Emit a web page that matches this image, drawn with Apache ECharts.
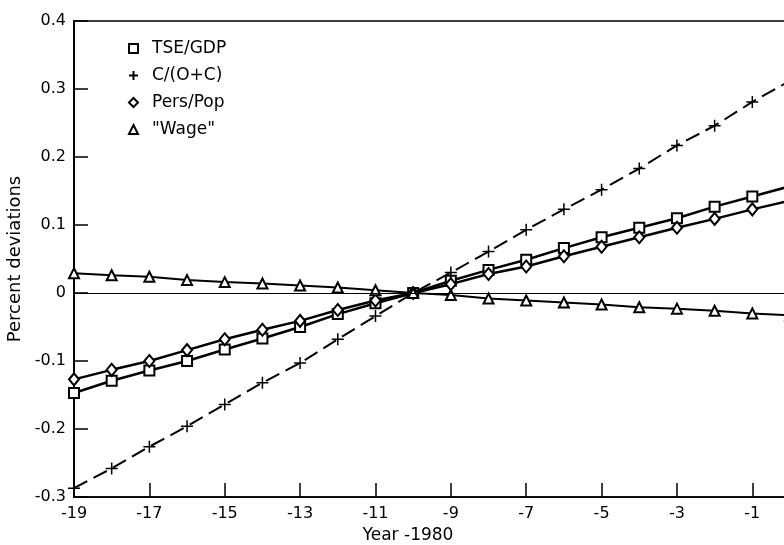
<!DOCTYPE html>
<html>
<head>
<meta charset="utf-8">
<script src="https://cdn.jsdelivr.net/npm/echarts@6/dist/echarts.min.js"></script>
<style>
html, body { margin: 0; padding: 0; background: #fff; }
#main { width: 784px; height: 545px; }
</style>
</head>
<body>
<div id="main"></div>
<script>
// years relative to 1980
var years = [-19, -18, -17, -16, -15, -14, -13, -12, -11, -10, -9, -8, -7, -6, -5, -4, -3, -2, -1, 0];

var tseGdp = [-0.147, -0.129, -0.114, -0.100, -0.083, -0.067, -0.050, -0.031, -0.015, 0.000,
	0.018, 0.034, 0.049, 0.066, 0.082, 0.096, 0.110, 0.127, 0.142, 0.157];
var cOC = [-0.287, -0.258, -0.226, -0.196, -0.164, -0.132, -0.103, -0.068, -0.034, 0.000,
	0.030, 0.061, 0.093, 0.123, 0.152, 0.183, 0.217, 0.246, 0.281, 0.312];
var persPop = [-0.127, -0.113, -0.100, -0.084, -0.068, -0.054, -0.041, -0.025, -0.011, 0.000,
	0.013, 0.028, 0.039, 0.054, 0.068, 0.082, 0.096, 0.109, 0.123, 0.136];
var wage = [0.029, 0.026, 0.024, 0.019, 0.016, 0.014, 0.011, 0.008, 0.004, 0.000,
	-0.003, -0.008, -0.011, -0.014, -0.017, -0.021, -0.023, -0.026, -0.030, -0.033];

var names = ['TSE/GDP', 'C/(O+C)', 'Pers/Pop', '"Wage"'];

function pairs(vals) {
	var out = [];
	for (var i = 0; i < years.length; i++) {
		out.push([years[i], vals[i]]);
	}
	return out;
}

var plusPath = 'path://M5,0L5,10M0,5L10,5';
var font = 'DejaVu Sans';

var chart = echarts.init(document.getElementById('main'));

var option = {
	animation: false,
	backgroundColor: '#fff',
	textStyle: { fontFamily: font, color: '#000' },
	grid: {
		left: 74,
		right: -6,
		top: 21,
		bottom: 48,
		outerBoundsMode: 'none',
		containLabel: false,
		show: true,
		borderColor: '#000',
		borderWidth: 1.5
	},
	legend: {
		orient: 'vertical',
		left: 123,
		top: 35,
		itemWidth: 9,
		itemHeight: 9,
		itemGap: 10,
		textStyle: { fontFamily: font, fontSize: 17, color: '#000', padding: [0, 0, 0, 9] },
		data: [
			{ name: names[0], icon: 'emptyRect' },
			{ name: names[1], icon: plusPath },
			{ name: names[2], icon: 'emptyDiamond' },
			{ name: names[3], icon: 'emptyTriangle' }
		]
	},
	xAxis: {
		type: 'value',
		min: -19,
		max: 0,
		interval: 2,
		name: 'Year -1980',
		nameLocation: 'middle',
		nameGap: 30,
		nameTextStyle: { fontFamily: font, fontSize: 17, color: '#000', padding: [0, 48, 0, 0] },
		axisLine: { onZero: false, lineStyle: { color: '#000', width: 1.5 } },
		axisTick: { inside: true, length: 14, lineStyle: { color: '#000', width: 1.5 } },
		axisLabel: {
			fontFamily: font, fontSize: 16, color: '#000', margin: 9,
			formatter: function (v) { return v === 0 ? '' : String(v); }
		},
		splitLine: { show: false }
	},
	yAxis: {
		type: 'value',
		min: -0.3,
		max: 0.4,
		interval: 0.1,
		name: 'Percent deviations',
		nameLocation: 'middle',
		nameGap: 50,
		nameTextStyle: { fontFamily: font, fontSize: 18, color: '#000' },
		axisLine: { onZero: false, lineStyle: { color: '#000', width: 2 } },
		axisTick: { inside: true, length: 14, lineStyle: { color: '#000', width: 1.5 } },
		axisLabel: {
			fontFamily: font, fontSize: 16, color: '#000', margin: 8,
			formatter: function (v) {
				if (Math.abs(v) < 1e-9) return '0';
				return v.toFixed(1);
			}
		},
		splitLine: { show: false }
	},
	series: [
		{
			name: names[0],
			type: 'line',
			symbol: 'emptyRect',
			symbolSize: 10,
			itemStyle: { color: '#000', borderColor: '#000', borderWidth: 1.5 },
			lineStyle: { color: '#000', width: 2.5 },
			data: pairs(tseGdp),
			z: 3,
			markLine: {
				silent: true,
				symbol: 'none',
				label: { show: false },
				lineStyle: { color: '#000', width: 1, type: 'solid' },
				data: [{ yAxis: 0 }]
			}
		},
		{
			name: names[1],
			type: 'line',
			symbol: plusPath,
			symbolSize: 12,
			itemStyle: { color: '#000', borderColor: '#000', borderWidth: 1.5 },
			lineStyle: { color: '#000', width: 2, type: [15, 7] },
			data: pairs(cOC),
			z: 3
		},
		{
			name: names[2],
			type: 'line',
			symbol: 'emptyDiamond',
			symbolSize: [10, 12],
			itemStyle: { color: '#000', borderColor: '#000', borderWidth: 1.5 },
			lineStyle: { color: '#000', width: 2.5 },
			data: pairs(persPop),
			z: 3
		},
		{
			name: names[3],
			type: 'line',
			symbol: 'emptyTriangle',
			symbolSize: 10,
			itemStyle: { color: '#000', borderColor: '#000', borderWidth: 1.5 },
			lineStyle: { color: '#000', width: 2 },
			data: pairs(wage),
			z: 3
		}
	]
};

chart.setOption(option);
</script>
</body>
</html>
